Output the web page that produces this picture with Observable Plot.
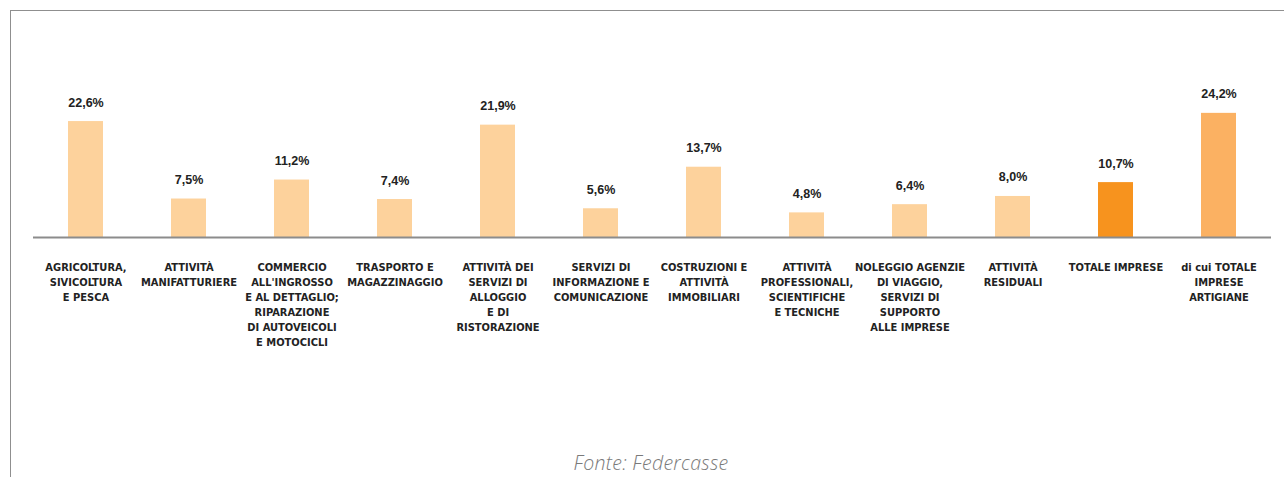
<!DOCTYPE html>
<html>
<head>
<meta charset="utf-8">
<script src="https://cdn.jsdelivr.net/npm/d3@7"></script>
<script src="https://cdn.jsdelivr.net/npm/@observablehq/plot@0.6"></script>
<style>
  html, body { margin: 0; padding: 0; background: #fff; }
  #wrap { position: relative; width: 1284px; height: 477px; overflow: hidden; }
  #frame { position: absolute; left: 10px; top: 10px; right: -5px; bottom: -5px;
           border-top: 1.5px solid #8f8f8f; border-left: 1.5px solid #8f8f8f; }
  #chart { position: absolute; left: 0; top: 0; }
  #caption { position: absolute; left: 0; width: 1302px; top: 449px; text-align: center;
             font-family: "Open Sans", sans-serif; font-style: italic; font-weight: 300;
             font-size: 19.5px; color: #7a7a7a; letter-spacing: 0.3px; }
</style>
</head>
<body>
<div id="wrap">
  <div id="frame"></div>
  <div id="chart"></div>
  <div id="caption">Fonte: Federcasse</div>
</div>
<script>
const categories = [
  "AGRICOLTURA,\nSIVICOLTURA\nE PESCA",
  "ATTIVITÀ\nMANIFATTURIERE",
  "COMMERCIO\nALL'INGROSSO\nE AL DETTAGLIO;\nRIPARAZIONE\nDI AUTOVEICOLI\nE MOTOCICLI",
  "TRASPORTO E\nMAGAZZINAGGIO",
  "ATTIVITÀ DEI\nSERVIZI DI\nALLOGGIO\nE DI\nRISTORAZIONE",
  "SERVIZI DI\nINFORMAZIONE E\nCOMUNICAZIONE",
  "COSTRUZIONI E\nATTIVITÀ\nIMMOBILIARI",
  "ATTIVITÀ\nPROFESSIONALI,\nSCIENTIFICHE\nE TECNICHE",
  "NOLEGGIO AGENZIE\nDI VIAGGIO,\nSERVIZI DI\nSUPPORTO\nALLE IMPRESE",
  "ATTIVITÀ\nRESIDUALI",
  "TOTALE IMPRESE",
  "di cui TOTALE\nIMPRESE\nARTIGIANE"
];
const values = [22.6, 7.5, 11.2, 7.4, 21.9, 5.6, 13.7, 4.8, 6.4, 8.0, 10.7, 24.2];
const kinds = ["settore","settore","settore","settore","settore","settore","settore","settore","settore","settore","totale","artigiane"];
const kindColors = { settore: "#fdd29c", totale: "#f7931e", artigiane: "#fbb162" };

const data = categories.map((c, i) => ({ cat: c, value: values[i], kind: kinds[i] }));
const fmt = v => v.toFixed(1).replace(".", ",") + "%";
const LABEL_FONT = "'DejaVu Sans Condensed', 'Liberation Sans', sans-serif";
const VALUE_FONT = "'Liberation Sans', sans-serif";

const chart = Plot.plot({
  width: 1284,
  height: 440,
  marginLeft: 33,
  marginRight: 13,
  marginTop: 108.75,
  marginBottom: 203,
  style: { fontFamily: VALUE_FONT, background: "transparent" },
  x: { domain: categories, paddingInner: 0.66, paddingOuter: 0.33, label: null },
  y: { domain: [0, 25], axis: null },
  marks: [
    Plot.barY(data, { x: "cat", y: "value", fill: d => kindColors[d.kind] }),
    Plot.ruleY([0], { stroke: "#8c8c8c", strokeWidth: 2 }),
    Plot.text(data, { x: "cat", y: "value", text: d => fmt(d.value), dy: -19,
      fontWeight: "bold", fontSize: 12.5, fill: "#222" }),
    Plot.axisX({ tickSize: 0, tickPadding: 23, lineAnchor: "top", lineHeight: 1.36,
      fontSize: 11, fontWeight: "bold", fill: "#222", label: null,
      fontFamily: LABEL_FONT })
  ]
});
document.getElementById("chart").appendChild(chart);
</script>
</body>
</html>
